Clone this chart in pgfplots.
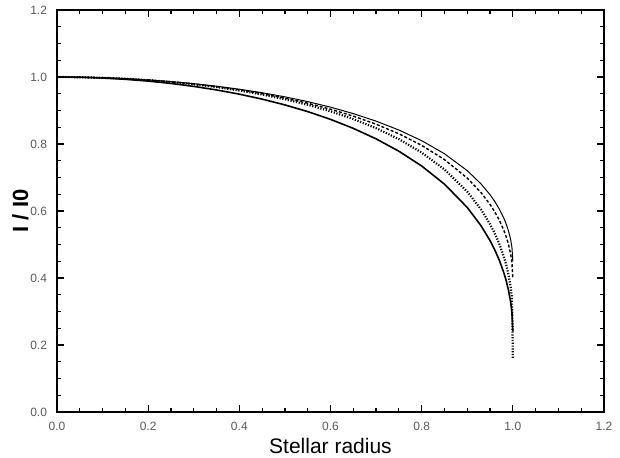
\documentclass[border=0pt]{standalone}
\usepackage{pgfplots}
\pgfplotsset{compat=1.18}
\usepackage{fontspec}
\setmainfont{Liberation Sans}
\definecolor{ticklab}{gray}{0.35}
\begin{document}
\begin{tikzpicture}
\useasboundingbox (-28.5pt,-22.5pt) rectangle (281.5pt,206pt);
\begin{axis}[
  scale only axis, width=273.5pt, height=201pt,
  at={(0,0)}, anchor=south west,
  xmin=0, xmax=1.2, ymin=0, ymax=1.2,
  xtick={0,0.2,0.4,0.6,0.8,1.0,1.2},
  ytick={0,0.2,0.4,0.6,0.8,1.0,1.2},
  minor x tick num=3, minor y tick num=3,
  tick align=inside,
  major tick length=3.5pt, minor tick length=2pt,
  every tick/.style={black, line width=0.6pt},
  axis line style={line width=0.9pt},
  /pgf/number format/assume math mode=true,
  /pgf/number format/.cd, fixed, fixed zerofill, precision=1, /pgfplots/.cd,
  tick label style={font=\fontsize{6}{7}\selectfont, text=ticklab},
  xticklabel style={yshift=-1.5pt},
  yticklabel style={xshift=-1.5pt},
  xlabel={Stellar radius},
  ylabel={\textbf{I / I0}},
  xlabel style={font=\fontsize{10.5}{12}\selectfont, yshift=3pt},
  ylabel style={font=\fontsize{11}{12}\selectfont, yshift=-6pt},
]
% upper thin solid
\addplot[black, line width=0.5pt] coordinates {
(0,1) (0.05,0.9995) (0.1,0.9979) (0.15,0.9952) (0.2,0.9914) (0.25,0.9864) (0.3,0.9802) (0.35,0.9726) (0.4,0.9636) (0.45,0.9531) (0.5,0.9408) (0.55,0.9265) (0.6,0.9100) (0.65,0.8908) (0.7,0.8683) (0.75,0.8418) (0.8,0.8100) (0.85,0.7709) (0.9,0.7205) (0.93,0.6812) (0.95,0.6486) (0.96,0.6292) (0.97,0.6067) (0.98,0.5794) (0.985,0.5628) (0.99,0.5427) (0.995,0.5162) (0.998,0.4922) (1.0,0.45)};
% dashed
\addplot[black, line width=0.7pt, dash pattern=on 1.5pt off 1pt] coordinates {
(0,1) (0.05,0.9994) (0.1,0.9977) (0.15,0.9949) (0.2,0.9908) (0.25,0.9856) (0.3,0.9790) (0.35,0.9709) (0.4,0.9614) (0.45,0.9501) (0.5,0.9370) (0.55,0.9217) (0.6,0.9040) (0.65,0.8833) (0.7,0.8591) (0.75,0.8305) (0.8,0.7960) (0.85,0.7535) (0.9,0.6984) (0.93,0.6554) (0.95,0.6196) (0.96,0.5982) (0.97,0.5735) (0.98,0.5433) (0.985,0.5249) (0.99,0.5028) (0.995,0.4734) (0.998,0.4468) (1.0,0.40)};
% dotted
\addplot[black, line width=1.1pt, dash pattern=on 0.6pt off 0.8pt] coordinates {
(0,1) (0.05,0.9994) (0.1,0.9977) (0.15,0.9948) (0.2,0.9906) (0.25,0.9851) (0.3,0.9783) (0.35,0.9699) (0.4,0.9598) (0.45,0.9478) (0.5,0.9337) (0.55,0.9171) (0.6,0.8976) (0.65,0.8746) (0.7,0.8473) (0.75,0.8145) (0.8,0.7744) (0.85,0.7241) (0.9,0.6578) (0.93,0.6051) (0.95,0.5607) (0.96,0.5340) (0.97,0.5029) (0.98,0.4647) (0.985,0.4414) (0.99,0.4131) (0.995,0.3753) (0.998,0.3409) (0.999,0.28) (1.0,0.16)};
% lower solid
\addplot[black, line width=0.8pt] coordinates {
(0,1) (0.05,0.9992) (0.1,0.9970) (0.15,0.9932) (0.2,0.9878) (0.25,0.9808) (0.3,0.9720) (0.35,0.9614) (0.4,0.9488) (0.45,0.9340) (0.5,0.9167) (0.55,0.8968) (0.6,0.8736) (0.65,0.8467) (0.7,0.8154) (0.75,0.7785) (0.8,0.7344) (0.85,0.6802) (0.9,0.6106) (0.93,0.5565) (0.95,0.5117) (0.96,0.4851) (0.97,0.4542) (0.98,0.4167) (0.985,0.3940) (0.99,0.3666) (0.995,0.3303) (0.998,0.2975) (1.0,0.24)};
\end{axis}
\end{tikzpicture}
\end{document}
